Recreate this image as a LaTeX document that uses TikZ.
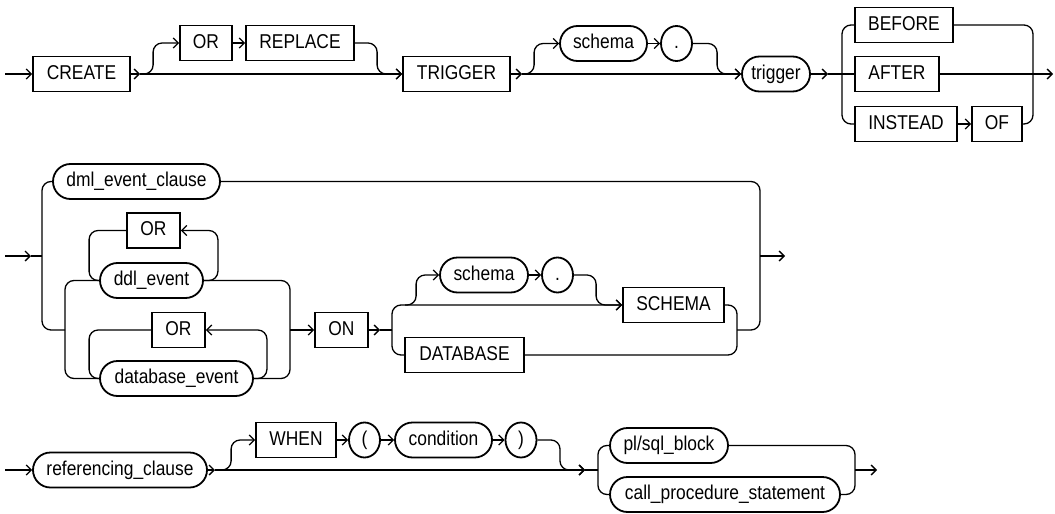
\documentclass[tikz,border=0pt]{standalone}
\usepackage{fontspec}
\setmainfont{Liberation Sans}[FakeStretch=0.87]
\usetikzlibrary{arrows.meta, shapes.misc, shapes.geometric}

\begin{document}
\begin{tikzpicture}[
    x=1pt, y=-1pt,
    font=\fontsize{20}{24}\selectfont,
    keyword/.style={draw, rectangle, line width=1.8pt, minimum height=35pt, inner sep=0pt, text height=14.5pt, text depth=4pt},
    nonterm/.style={draw, rounded rectangle, line width=1.8pt, minimum height=35pt, inner sep=0pt, text height=14.5pt, text depth=4pt},
    symbol/.style={draw, ellipse, line width=1.8pt, minimum height=35pt, minimum width=31pt, inner sep=0pt, text height=14.5pt, text depth=4pt},
    rail/.style={line width=1.3pt, rounded corners=9pt},
    flow/.style={rail, -{Straight Barb[length=5pt,width=10pt]}}
]
\useasboundingbox (0,0) rectangle (1055,514);

% first row: CREATE [OR REPLACE] TRIGGER [schema .] trigger BEFORE|AFTER|INSTEAD OF
\coordinate (s1) at (5,74);
\node[keyword, minimum width=97pt] (create) at (81.5,74) {CREATE};
\coordinate (c1) at (140,74);
\node[keyword, minimum width=52pt] (or1) at (206,43) {OR};
\node[keyword, minimum width=108pt] (replace) at (300,43) {REPLACE};
\node[keyword, minimum width=107pt] (trigkw) at (456.5,74) {TRIGGER};
\coordinate (c2) at (522,74);
\node[nonterm, minimum width=87pt] (schema1) at (603.5,43.5) {schema};
\node[symbol] (dot1) at (676.5,43.5) {.};
\node[nonterm, minimum width=68pt] (trigger) at (776,74) {trigger};
\coordinate (c3) at (828,74);
\coordinate (v1) at (842,74);
\node[keyword, minimum width=98pt] (before) at (904,25) {BEFORE};
\node[keyword, minimum width=84pt] (after) at (897,74) {AFTER};
\node[keyword, minimum width=102pt] (instead) at (906,124) {INSTEAD};
\node[keyword, minimum width=50pt] (of) at (997,124) {OF};
\coordinate (v2) at (1033,74);
\coordinate (e1) at (1053,74);

\draw[flow] (s1) -- (create.west);
\draw[flow] (create.east) -- (c1);
\draw[flow] (c1) -| ([xshift=-26pt]or1.west) -- (or1.west);
\draw[flow] (or1.east) -- (replace.west);
\draw[flow] (replace.east) -| ([xshift=-25pt]trigkw.west) -- (trigkw.west);
\draw[flow] (c1) -- (trigkw.west);
\draw[flow] (trigkw.east) -- (c2);
\draw[flow] (c2) -| ([xshift=-25pt]schema1.west) -- (schema1.west);
\draw[flow] (schema1.east) -- (dot1.west);
\draw[flow] (dot1.east) -| ([xshift=-24pt]trigger.west) -- (trigger.west);
\draw[flow] (c2) -- (trigger.west);
\draw[flow] (trigger.east) -- (c3);
\draw[rail] (c3) -- (after.west);
\draw[rail] (before.west) -| (v1) |- (instead.west);
\draw[flow] (instead.east) -- (of.west);
\draw[rail] (before.east) -| (v2) |- (of.east);
\draw[rail] (after.east) -- (v2);
\draw[flow] (v2) -- (e1);

% second row: event clauses ON SCHEMA|DATABASE
\coordinate (s2) at (5,256);
\coordinate (a2) at (31,256);
\coordinate (v3) at (42,256);
\coordinate (v4) at (65,330);
\node[nonterm, minimum width=167pt] (dml) at (136.5,181.5) {dml\_event\_clause};
\node[keyword, minimum width=53pt] (ora) at (153.5,230.5) {OR};
\node[nonterm, minimum width=103pt] (ddl) at (151.5,280.5) {ddl\_event};
\node[keyword, minimum width=53pt] (orb) at (178.5,330) {OR};
\node[nonterm, minimum width=153pt] (dbev) at (176.5,378.5) {database\_event};
\coordinate (v5) at (290,330);
\node[keyword, minimum width=53pt] (on) at (341.5,330) {ON};
\coordinate (a3) at (380,330);
\coordinate (v6) at (392,330);
\node[nonterm, minimum width=88pt] (schema2) at (484,275) {schema};
\node[symbol] (dot2) at (557.5,275) {.};
\node[keyword, minimum width=101pt] (schemakw) at (673.5,305) {SCHEMA};
\node[keyword, minimum width=119pt] (database) at (464.5,355) {DATABASE};
\coordinate (v7) at (737,330);
\coordinate (v8) at (760,256);
\coordinate (e2) at (785,256);

\draw[flow] (s2) -- (a2);
\draw[rail] (a2) -- (v3);
\draw[rail] (dml.west) -| (v3) |- (v4);
\draw[rail] (ddl.west) -| (v4) |- (dbev.west);
\draw[flow] (ddl.east) -- ++(14,0) |- (ora.east);
\draw[rail] (ora.west) -| ([xshift=-10pt]ddl.west) -- (ddl.west);
\draw[flow] (dbev.east) -- ++(13,0) |- (orb.east);
\draw[rail] (orb.west) -| ([xshift=-10pt]dbev.west) -- (dbev.west);
\draw[rail] (ddl.east) -| (v5) |- (dbev.east);
\draw[flow] (v5) -- (on.west);
\draw[flow] (on.east) -- (a3);
\draw[rail] (a3) -- (v6);
\draw[flow] (v6) |- (schemakw.west);
\draw[flow] ([xshift=13pt]v6 |- schemakw.west) -| ([xshift=-23pt]schema2.west) -- (schema2.west);
\draw[flow] (schema2.east) -- (dot2.west);
\draw[flow] (dot2.east) -| ([xshift=-26pt]schemakw.west) -- (schemakw.west);
\draw[rail] (v6) |- (database.west);
\draw[rail] (schemakw.east) -| (v7) |- (database.east);
\draw[rail] (dml.east) -| (v8) |- (v7);
\draw[flow] (v8) -- (e2);

% third row: referencing_clause [WHEN ( condition )] body
\coordinate (s3) at (5,470);
\node[nonterm, minimum width=174pt] (ref) at (120,470) {referencing\_clause};
\coordinate (c4) at (215,470);
\node[keyword, minimum width=80pt] (when) at (296,440) {WHEN};
\node[symbol] (lpar) at (364.5,440) {(};
\node[nonterm, minimum width=97pt] (cond) at (443.5,440) {condition};
\node[symbol] (rpar) at (521,440) {)};
\coordinate (c5) at (585,470);
\coordinate (v9) at (598,470);
\node[nonterm, minimum width=118pt] (plsql) at (669,445.5) {pl/sql\_block};
\node[nonterm, minimum width=230pt] (callp) at (725,494.5) {call\_procedure\_statement};
\coordinate (v10) at (855,470);
\coordinate (e3) at (877,470);

\draw[flow] (s3) -- (ref.west);
\draw[flow] (ref.east) -- (c4);
\draw[flow] (c4) -| ([xshift=-24pt]when.west) -- (when.west);
\draw[flow] (when.east) -- (lpar.west);
\draw[flow] (lpar.east) -- (cond.west);
\draw[flow] (cond.east) -- (rpar.west);
\draw[flow] (rpar.east) -| ([xshift=-25pt]c5) -- (c5);
\draw[flow] (c4) -- (c5);
\draw[rail] (c5) -- (v9);
\draw[rail] (plsql.west) -| (v9) |- (callp.west);
\draw[rail] (plsql.east) -| (v10) |- (callp.east);
\draw[flow] (v10) -- (e3);
\end{tikzpicture}
\end{document}
